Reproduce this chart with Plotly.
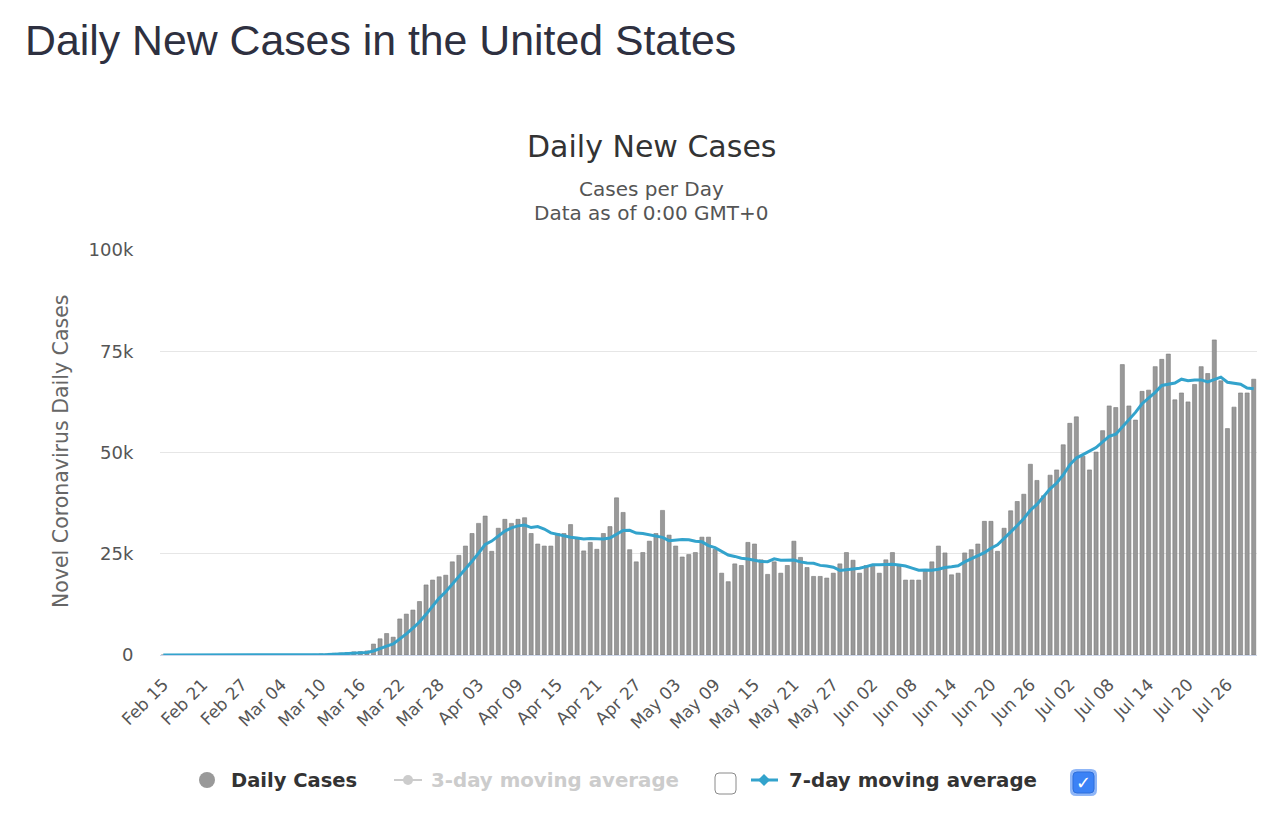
import pandas as pd
import plotly.graph_objects as go

# x categories: one bar per day, Feb 15 -> Jul 30 2020
dates = pd.date_range("2020-02-15", "2020-07-30", freq="D")

# daily new cases
daily_cases = [
    # Feb 15 - Feb 29
    0, 0, 0, 0, 0, 0, 19, 0, 0, 0, 4, 1, 0, 1, 8,
    # Mar 01 - Mar 16
    10, 20, 25, 30, 60, 70, 110, 120, 150, 260, 290, 420, 500, 620, 780, 850,
    # Mar 17 - Apr 04
    1000, 2700, 4000, 5300, 4400, 8900, 10100, 11100, 13200, 17300,
    18500, 19300, 19700, 23000, 24600, 26900, 30000, 32500, 34300,
    # Apr 05 - May 14
    25600, 31300, 33500, 32500, 33500, 33900, 30000, 27400, 26900, 26900,
    30000, 30000, 32200, 28700, 25700, 27800, 26100, 30000, 31700, 38800,
    35200, 26000, 23000, 25300, 28100, 30000, 35700, 29600, 26900, 24200,
    24800, 25300, 29100, 29100, 26100, 20200, 18100, 22500, 22100, 27800,
    # May 15 - Jun 25
    27400, 23500, 19900, 23000, 20200, 22100, 28100, 24100, 21600, 19400,
    19400, 19000, 20200, 22500, 25300, 23400, 20200, 22100, 22100, 20200,
    23500, 25300, 22100, 18500, 18500, 18500, 20700, 23000, 26900, 25200,
    19800, 20200, 25200, 26000, 27400, 33000, 33000, 25600, 31300, 35600,
    37900, 39700,
    # Jun 26 - Jul 30
    47100, 43100, 39300, 44400, 45700, 51900, 57200, 58800, 49100, 45700,
    50100, 55400, 61500, 61100, 71700, 61500, 58000, 65100, 65400, 71200,
    73000, 74300, 63000, 64700, 62500, 66800, 71200, 69500, 77800, 67700,
    55900, 61200, 64700, 64700, 68100,
]

# 7-day moving average of the daily series (what the blue line shows)
avg_7day = pd.Series(daily_cases).rolling(7, min_periods=1).mean()

y_ticks = [0, 25000, 50000, 75000, 100000]
y_tick_labels = ["0", "25k", "50k", "75k", "100k"]
x_ticks = dates[::6]

# the page puts the figure 8px in from the top-left corner of the window
OFF = 8
W, H = 1280, 836
# plot area in window pixels: x 160..1257, y 250..655
L, R, T, B = 160 - OFF, W - (1257 - OFF), 250 - OFF, H - (655 - OFF)
PW, PH = W - L - R, H - T - B


def px(x):
    # window pixel x -> paper fraction
    return (x - OFF - L) / PW


def py(y):
    # window pixel y -> paper fraction
    return (H - B - (y - OFF)) / PH


def rounded_box(x0, y0, x1, y1, r):
    # rounded rectangle path in paper coordinates, input in window pixels
    a, b, c, d = px(x0), px(x1), py(y0), py(y1)
    rx, ry = r / PW, r / PH
    return (
        f"M{a + rx},{c} L{b - rx},{c} Q{b},{c} {b},{c - ry} "
        f"L{b},{d + ry} Q{b},{d} {b - rx},{d} L{a + rx},{d} "
        f"Q{a},{d} {a},{d + ry} L{a},{c - ry} Q{a},{c} {a + rx},{c} Z"
    )


fig = go.Figure()

fig.add_trace(
    go.Bar(
        x=dates,
        y=daily_cases,
        marker=dict(color="#999999", line=dict(color="#7a7a7a", width=0.6)),
        name="Daily Cases",
        showlegend=False,
    )
)

fig.add_trace(
    go.Scatter(
        x=dates,
        y=avg_7day,
        mode="lines",
        line=dict(color="#33a3cc", width=3),
        name="7-day moving average",
        showlegend=False,
    )
)

text_font = "DejaVu Sans"


def note(x, y, text, size, color, anchor="left", family=text_font, **kw):
    return dict(x=px(x), y=py(y), xref="paper", yref="paper", text=text,
                showarrow=False, xanchor=anchor, yanchor="middle",
                font=dict(family=family, size=size, color=color), **kw)


annotations = [
    note(23, 40, "Daily New Cases in the United States", 42.8, "#2e3040",
         family="Liberation Sans"),
    note(651, 147, "Daily New Cases", 30, "#333333", anchor="center"),
    note(651, 189, "Cases per Day", 20, "#555555", anchor="center"),
    note(651, 213, "Data as of 0:00 GMT+0", 20, "#555555", anchor="center"),
    note(61, 452, "Novel Coronavirus Daily Cases", 20.5, "#666666",
         anchor="center", textangle=-90),
    # legend
    note(229, 780, "<b>Daily Cases</b>", 19.5, "#333333"),
    note(429, 780, "<b>3-day moving average</b>", 19.8, "#cccccc"),
    note(787, 780, "<b>7-day moving average</b>", 19.8, "#333333"),
    note(1083.5, 782, "<b>✓</b>", 18, "white", anchor="center"),
]

shapes = [
    # Daily Cases marker
    dict(type="circle", xref="paper", yref="paper",
         x0=px(199), x1=px(215), y0=py(788), y1=py(772),
         fillcolor="#999999", line=dict(width=0)),
    # 3-day marker (hidden series)
    dict(type="line", xref="paper", yref="paper",
         x0=px(394), x1=px(422), y0=py(780), y1=py(780),
         line=dict(color="#cccccc", width=2)),
    dict(type="circle", xref="paper", yref="paper",
         x0=px(403), x1=px(413), y0=py(785), y1=py(775),
         fillcolor="#cccccc", line=dict(width=0)),
    # unchecked box
    dict(type="path", xref="paper", yref="paper",
         path=rounded_box(715, 773, 736, 794, 4),
         fillcolor="white", line=dict(color="#8a8a8a", width=1)),
    # 7-day marker
    dict(type="line", xref="paper", yref="paper",
         x0=px(751), x1=px(778), y0=py(780), y1=py(780),
         line=dict(color="#33a3cc", width=3)),
    dict(type="path", xref="paper", yref="paper",
         path=f"M{px(764)},{py(774)} L{px(770)},{py(780)} L{px(764)},{py(786)} L{px(758)},{py(780)} Z",
         fillcolor="#33a3cc", line=dict(width=0)),
    # checked box
    dict(type="path", xref="paper", yref="paper",
         path=rounded_box(1070, 769, 1097, 796, 6),
         fillcolor="#8fb6f7", line=dict(width=0)),
    dict(type="path", xref="paper", yref="paper",
         path=rounded_box(1073, 772, 1094, 793, 4),
         fillcolor="#3b82f6", line=dict(color="#2f6fdc", width=1)),
]

fig.update_layout(
    width=W,
    height=H,
    margin=dict(l=L, r=R, t=T, b=B, autoexpand=False),
    plot_bgcolor="white",
    paper_bgcolor="white",
    bargap=0.38,
    showlegend=False,
    annotations=annotations,
    shapes=shapes,
    font=dict(family=text_font),
)

fig.update_xaxes(
    type="date",
    range=[dates[0] - pd.Timedelta(hours=12), dates[-1] + pd.Timedelta(hours=12)],
    tickvals=x_ticks,
    tickformat="%b %d",
    tickangle=-45,
    tickfont=dict(family=text_font, size=17, color="#555555"),
    showgrid=False,
    showline=True,
    linecolor="#ccd6eb",
    linewidth=1,
    ticks="outside",
    ticklen=12,
    tickcolor="rgba(0,0,0,0)",
)

fig.update_yaxes(
    range=[0, 100000],
    tickvals=y_ticks,
    ticktext=y_tick_labels,
    tickfont=dict(family=text_font, size=18, color="#555555"),
    showgrid=True,
    gridcolor="#e6e6e6",
    zeroline=False,
    ticks="outside",
    ticklen=22,
    tickcolor="rgba(0,0,0,0)",
)

fig.write_html("out.html")
